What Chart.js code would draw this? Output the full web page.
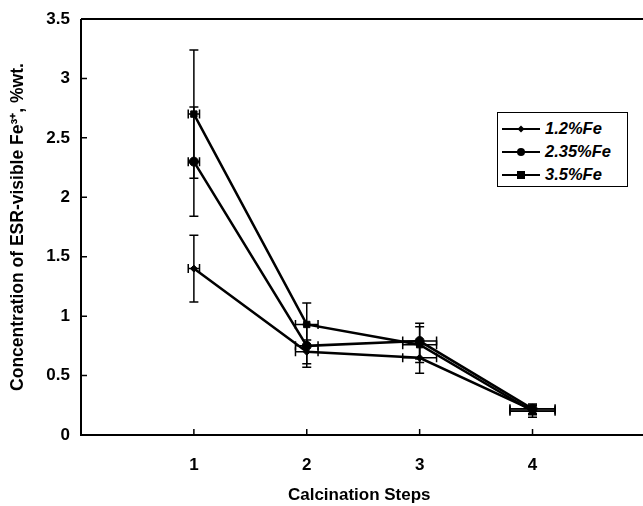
<!DOCTYPE html>
<html>
<head>
<meta charset="utf-8">
<script src="https://cdn.jsdelivr.net/npm/chart.js@4"></script>
<style>
  body { margin: 0; background: #fff; }
  #wrap { position: relative; width: 643px; height: 506px; }
  #legend {
    position: absolute; left: 497px; top: 112px; width: 131px; height: 75px;
    border: 1.5px solid #000; background: #fff;
    font: italic bold 16.5px "Liberation Sans", Arial, sans-serif;
    padding-top: 4px; box-sizing: border-box;
  }
  .row { display: flex; align-items: center; height: 23px; }
  .row svg { margin-left: 4px; margin-right: 5px; }
</style>
</head>
<body>
<div id="wrap">
  <canvas id="chart" width="643" height="506"></canvas>
  <div id="legend"></div>
</div>
<script>
// ─── Data ─────────────────────────────────────────────────

const steps = [1, 2, 3, 4];
const seriesLabels = ['1.2%Fe', '2.35%Fe', '3.5%Fe'];
const fe12 = [1.40, 0.70, 0.65, 0.21];
const fe235 = [2.30, 0.75, 0.79, 0.22];
const fe35 = [2.70, 0.93, 0.76, 0.20];
const fe12Err = [0.28, 0.10, 0.13, 0.04];
const fe235Err = [0.46, 0.18, 0.15, 0.04];
const fe35Err = [0.54, 0.18, 0.15, 0.05];
const stepErr = [0.05, 0.10, 0.15, 0.20];
const xTicks = [1, 2, 3, 4];
const yTicks = [0, 0.5, 1, 1.5, 2, 2.5, 3, 3.5];

const FONT = '"Liberation Sans", Arial, sans-serif';

function pts(vals) { return steps.map((s, i) => ({ x: s, y: vals[i] })); }

const datasets = [
  { label: seriesLabels[0], data: pts(fe12), yErr: fe12Err, pointStyle: 'rectRot', pointRadius: 3.5 },
  { label: seriesLabels[1], data: pts(fe235), yErr: fe235Err, pointStyle: 'circle', pointRadius: 4.5 },
  { label: seriesLabels[2], data: pts(fe35), yErr: fe35Err, pointStyle: 'rect', pointRadius: 4.5 }
].map(d => ({
  ...d,
  showLine: true,
  borderColor: '#000',
  backgroundColor: '#000',
  borderWidth: 2.5,
  pointBorderWidth: 1,
  pointBackgroundColor: '#000',
  pointBorderColor: '#000',
  clip: false
}));

// ─── Plugins ──────────────────────────────────────────────

const errorBars = {
  id: 'errorBars',
  beforeDatasetsDraw(chart) {
    const { ctx, scales: { x, y } } = chart;
    ctx.save();
    ctx.strokeStyle = '#000';
    ctx.lineWidth = 1.5;
    const cap = 4.5;
    chart.data.datasets.forEach(ds => {
      ds.data.forEach((p, i) => {
        const px = x.getPixelForValue(p.x);
        const py = y.getPixelForValue(p.y);
        const yt = y.getPixelForValue(p.y + ds.yErr[i]);
        const yb = y.getPixelForValue(p.y - ds.yErr[i]);
        const xl = x.getPixelForValue(p.x - stepErr[i]);
        const xr = x.getPixelForValue(p.x + stepErr[i]);
        ctx.beginPath();
        ctx.moveTo(px, yt); ctx.lineTo(px, yb);
        ctx.moveTo(px - cap, yt); ctx.lineTo(px + cap, yt);
        ctx.moveTo(px - cap, yb); ctx.lineTo(px + cap, yb);
        ctx.moveTo(xl, py); ctx.lineTo(xr, py);
        ctx.moveTo(xl, py - cap); ctx.lineTo(xl, py + cap);
        ctx.moveTo(xr, py - cap); ctx.lineTo(xr, py + cap);
        ctx.stroke();
      });
    });
    ctx.restore();
  }
};

const frame = {
  id: 'frame',
  afterDraw(chart) {
    const { ctx, chartArea: a, scales: { x, y } } = chart;
    ctx.save();
    ctx.strokeStyle = '#000';
    ctx.lineWidth = 2;
    ctx.beginPath();
    ctx.moveTo(a.left, a.top); ctx.lineTo(chart.width, a.top);
    ctx.moveTo(a.left, a.top); ctx.lineTo(a.left, a.bottom);
    ctx.lineTo(chart.width, a.bottom);
    ctx.stroke();
    ctx.lineWidth = 1.5;
    ctx.beginPath();
    xTicks.forEach(v => {
      const px = x.getPixelForValue(v);
      ctx.moveTo(px, a.bottom); ctx.lineTo(px, a.bottom - 6);
    });
    yTicks.slice(1, -1).forEach(v => {
      const py = y.getPixelForValue(v);
      ctx.moveTo(a.left, py); ctx.lineTo(a.left + 6, py);
    });
    ctx.stroke();
    ctx.restore();
  }
};

// ─── Chart ────────────────────────────────────────────────

const chart = new Chart(document.getElementById('chart'), {
  type: 'scatter',
  data: { datasets },
  options: {
    responsive: false,
    animation: false,
    layout: { padding: { top: 19, right: 0, left: 0, bottom: 0 } },
    plugins: { legend: { display: false }, tooltip: { enabled: false } },
    scales: {
      x: {
        type: 'linear', min: 0, max: 4.93,
        afterFit(s) { s.height = 71; s.paddingLeft = 0; s.paddingRight = 0; },
        afterBuildTicks(s) { s.ticks = xTicks.map(v => ({ value: v })); },
        grid: { display: false, drawTicks: false },
        border: { display: false },
        ticks: { color: '#000', padding: 20, font: { family: FONT, size: 17, weight: 'bold' } },
        title: {
          display: true, text: 'Calcination Steps', color: '#000',
          padding: { top: 0, bottom: 0 },
          font: { family: FONT, size: 17, weight: 'bold' }
        }
      },
      y: {
        min: 0, max: 3.5,
        afterFit(s) { s.width = 81; s.paddingTop = 0; s.paddingBottom = 0; },
        afterBuildTicks(s) { s.ticks = yTicks.map(v => ({ value: v })); },
        grid: { display: false, drawTicks: false },
        border: { display: false },
        ticks: {
          color: '#000', padding: 11,
          font: { family: FONT, size: 17, weight: 'bold' },
          callback: v => String(v)
        },
        title: {
          display: true, text: 'Concentration of ESR-visible Fe³⁺, %wt.', color: '#000',
          padding: { top: 8, bottom: 0 },
          font: { family: FONT, size: 17.5, weight: 'bold' }
        }
      }
    }
  },
  plugins: [errorBars, frame]
});

// ─── Legend ───────────────────────────────────────────────

function markerSvg(style, r) {
  let shape;
  if (style === 'rectRot') shape = `<polygon points="19,${9 - r} ${19 + r},9 19,${9 + r} ${19 - r},9" fill="#000"/>`;
  else if (style === 'circle') shape = `<circle cx="19" cy="9" r="${r - 0.5}" fill="#000"/>`;
  else shape = `<rect x="${19 - r + 0.5}" y="${9 - r + 0.5}" width="${2 * r - 1}" height="${2 * r - 1}" fill="#000"/>`;
  return `<svg width="38" height="18"><line x1="0" y1="9" x2="38" y2="9" stroke="#000" stroke-width="2"/>${shape}</svg>`;
}

document.getElementById('legend').innerHTML = datasets.map(d =>
  `<div class="row">${markerSvg(d.pointStyle, d.pointRadius)}<span>${d.label}</span></div>`
).join('');
</script>
</body>
</html>
